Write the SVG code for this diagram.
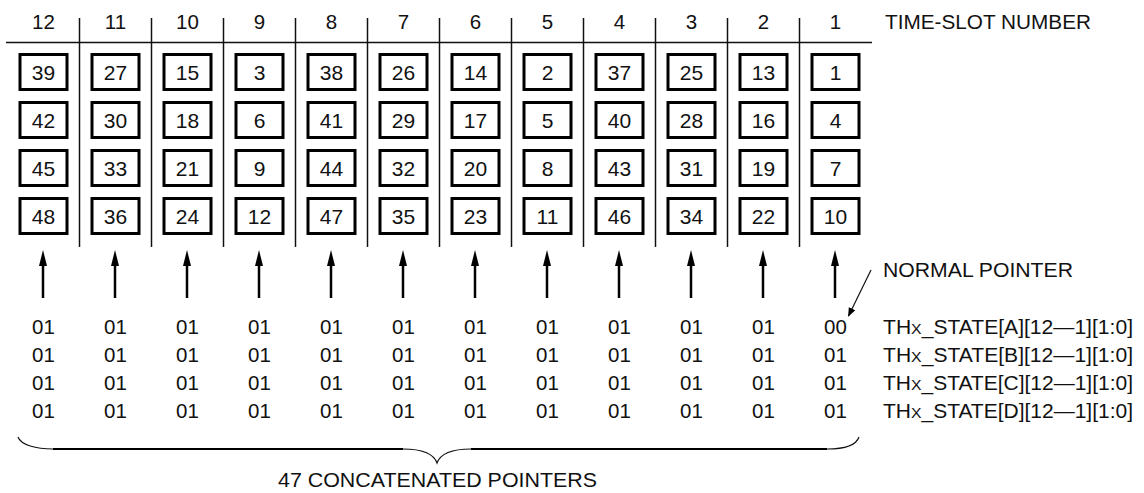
<svg xmlns="http://www.w3.org/2000/svg" width="1144" height="493" viewBox="0 0 1144 493">
<defs>
<style>
text{font-family:"Liberation Sans",Arial,sans-serif;fill:#111}
.hd{font-size:20.5px;text-anchor:middle}
.bx{font-size:21px;text-anchor:middle}
.v{font-size:20.5px;text-anchor:middle}
.lb{font-size:20px}
.sm{font-size:15px}
.ln{stroke:#111;stroke-width:1.5;fill:none}
.box{stroke:#000;stroke-width:3;fill:#fff}
.ar{stroke:#000;stroke-width:2.5;fill:none}
.hdl{fill:#000}
</style>
<marker id="ah" viewBox="0 0 10 10" refX="9" refY="5" markerWidth="9" markerHeight="9" markerUnits="userSpaceOnUse" orient="auto">
<path d="M0,1 L10,5 L0,9 Z" fill="#000"/>
</marker>
</defs>
<rect width="1144" height="493" fill="#fff"/>
<g id="grid">
<line class="ln" x1="6" y1="42.5" x2="872" y2="42.5"/>
<line class="ln" x1="79.5" y1="18" x2="79.5" y2="247"/>
<line class="ln" x1="151.5" y1="18" x2="151.5" y2="247"/>
<line class="ln" x1="223.5" y1="18" x2="223.5" y2="247"/>
<line class="ln" x1="295.5" y1="18" x2="295.5" y2="247"/>
<line class="ln" x1="367.5" y1="18" x2="367.5" y2="247"/>
<line class="ln" x1="439.5" y1="18" x2="439.5" y2="247"/>
<line class="ln" x1="511.5" y1="18" x2="511.5" y2="247"/>
<line class="ln" x1="583.5" y1="18" x2="583.5" y2="247"/>
<line class="ln" x1="655.5" y1="18" x2="655.5" y2="247"/>
<line class="ln" x1="727.5" y1="18" x2="727.5" y2="247"/>
<line class="ln" x1="799.5" y1="18" x2="799.5" y2="247"/>
</g>
<g id="header">
<text class="hd" x="43.5" y="28.5">12</text>
<text class="hd" x="115.5" y="28.5">11</text>
<text class="hd" x="187.5" y="28.5">10</text>
<text class="hd" x="259.5" y="28.5">9</text>
<text class="hd" x="331.5" y="28.5">8</text>
<text class="hd" x="403.5" y="28.5">7</text>
<text class="hd" x="475.5" y="28.5">6</text>
<text class="hd" x="547.5" y="28.5">5</text>
<text class="hd" x="619.5" y="28.5">4</text>
<text class="hd" x="691.5" y="28.5">3</text>
<text class="hd" x="763.5" y="28.5">2</text>
<text class="hd" x="835.5" y="28.5">1</text>
<text class="lb" x="885" y="28.5" textLength="206" lengthAdjust="spacingAndGlyphs">TIME-SLOT NUMBER</text>
</g>
<g id="col12">
<rect class="box" x="20" y="54.5" width="47" height="35"/><text class="bx" x="43.5" y="79.5">39</text>
<rect class="box" x="20" y="102.5" width="47" height="35"/><text class="bx" x="43.5" y="127.5">42</text>
<rect class="box" x="20" y="150.5" width="47" height="35"/><text class="bx" x="43.5" y="175.5">45</text>
<rect class="box" x="20" y="198.5" width="47" height="35"/><text class="bx" x="43.5" y="223.5">48</text>
</g>
<g id="col11">
<rect class="box" x="92" y="54.5" width="47" height="35"/><text class="bx" x="115.5" y="79.5">27</text>
<rect class="box" x="92" y="102.5" width="47" height="35"/><text class="bx" x="115.5" y="127.5">30</text>
<rect class="box" x="92" y="150.5" width="47" height="35"/><text class="bx" x="115.5" y="175.5">33</text>
<rect class="box" x="92" y="198.5" width="47" height="35"/><text class="bx" x="115.5" y="223.5">36</text>
</g>
<g id="col10">
<rect class="box" x="164" y="54.5" width="47" height="35"/><text class="bx" x="187.5" y="79.5">15</text>
<rect class="box" x="164" y="102.5" width="47" height="35"/><text class="bx" x="187.5" y="127.5">18</text>
<rect class="box" x="164" y="150.5" width="47" height="35"/><text class="bx" x="187.5" y="175.5">21</text>
<rect class="box" x="164" y="198.5" width="47" height="35"/><text class="bx" x="187.5" y="223.5">24</text>
</g>
<g id="col9">
<rect class="box" x="236" y="54.5" width="47" height="35"/><text class="bx" x="259.5" y="79.5">3</text>
<rect class="box" x="236" y="102.5" width="47" height="35"/><text class="bx" x="259.5" y="127.5">6</text>
<rect class="box" x="236" y="150.5" width="47" height="35"/><text class="bx" x="259.5" y="175.5">9</text>
<rect class="box" x="236" y="198.5" width="47" height="35"/><text class="bx" x="259.5" y="223.5">12</text>
</g>
<g id="col8">
<rect class="box" x="308" y="54.5" width="47" height="35"/><text class="bx" x="331.5" y="79.5">38</text>
<rect class="box" x="308" y="102.5" width="47" height="35"/><text class="bx" x="331.5" y="127.5">41</text>
<rect class="box" x="308" y="150.5" width="47" height="35"/><text class="bx" x="331.5" y="175.5">44</text>
<rect class="box" x="308" y="198.5" width="47" height="35"/><text class="bx" x="331.5" y="223.5">47</text>
</g>
<g id="col7">
<rect class="box" x="380" y="54.5" width="47" height="35"/><text class="bx" x="403.5" y="79.5">26</text>
<rect class="box" x="380" y="102.5" width="47" height="35"/><text class="bx" x="403.5" y="127.5">29</text>
<rect class="box" x="380" y="150.5" width="47" height="35"/><text class="bx" x="403.5" y="175.5">32</text>
<rect class="box" x="380" y="198.5" width="47" height="35"/><text class="bx" x="403.5" y="223.5">35</text>
</g>
<g id="col6">
<rect class="box" x="452" y="54.5" width="47" height="35"/><text class="bx" x="475.5" y="79.5">14</text>
<rect class="box" x="452" y="102.5" width="47" height="35"/><text class="bx" x="475.5" y="127.5">17</text>
<rect class="box" x="452" y="150.5" width="47" height="35"/><text class="bx" x="475.5" y="175.5">20</text>
<rect class="box" x="452" y="198.5" width="47" height="35"/><text class="bx" x="475.5" y="223.5">23</text>
</g>
<g id="col5">
<rect class="box" x="524" y="54.5" width="47" height="35"/><text class="bx" x="547.5" y="79.5">2</text>
<rect class="box" x="524" y="102.5" width="47" height="35"/><text class="bx" x="547.5" y="127.5">5</text>
<rect class="box" x="524" y="150.5" width="47" height="35"/><text class="bx" x="547.5" y="175.5">8</text>
<rect class="box" x="524" y="198.5" width="47" height="35"/><text class="bx" x="547.5" y="223.5">11</text>
</g>
<g id="col4">
<rect class="box" x="596" y="54.5" width="47" height="35"/><text class="bx" x="619.5" y="79.5">37</text>
<rect class="box" x="596" y="102.5" width="47" height="35"/><text class="bx" x="619.5" y="127.5">40</text>
<rect class="box" x="596" y="150.5" width="47" height="35"/><text class="bx" x="619.5" y="175.5">43</text>
<rect class="box" x="596" y="198.5" width="47" height="35"/><text class="bx" x="619.5" y="223.5">46</text>
</g>
<g id="col3">
<rect class="box" x="668" y="54.5" width="47" height="35"/><text class="bx" x="691.5" y="79.5">25</text>
<rect class="box" x="668" y="102.5" width="47" height="35"/><text class="bx" x="691.5" y="127.5">28</text>
<rect class="box" x="668" y="150.5" width="47" height="35"/><text class="bx" x="691.5" y="175.5">31</text>
<rect class="box" x="668" y="198.5" width="47" height="35"/><text class="bx" x="691.5" y="223.5">34</text>
</g>
<g id="col2">
<rect class="box" x="740" y="54.5" width="47" height="35"/><text class="bx" x="763.5" y="79.5">13</text>
<rect class="box" x="740" y="102.5" width="47" height="35"/><text class="bx" x="763.5" y="127.5">16</text>
<rect class="box" x="740" y="150.5" width="47" height="35"/><text class="bx" x="763.5" y="175.5">19</text>
<rect class="box" x="740" y="198.5" width="47" height="35"/><text class="bx" x="763.5" y="223.5">22</text>
</g>
<g id="col1">
<rect class="box" x="812" y="54.5" width="47" height="35"/><text class="bx" x="835.5" y="79.5">1</text>
<rect class="box" x="812" y="102.5" width="47" height="35"/><text class="bx" x="835.5" y="127.5">4</text>
<rect class="box" x="812" y="150.5" width="47" height="35"/><text class="bx" x="835.5" y="175.5">7</text>
<rect class="box" x="812" y="198.5" width="47" height="35"/><text class="bx" x="835.5" y="223.5">10</text>
</g>
<g id="connectors">
<g class="ar">
<line x1="43" y1="298" x2="43" y2="262"/>
<line x1="115" y1="298" x2="115" y2="262"/>
<line x1="187" y1="298" x2="187" y2="262"/>
<line x1="259" y1="298" x2="259" y2="262"/>
<line x1="331" y1="298" x2="331" y2="262"/>
<line x1="403" y1="298" x2="403" y2="262"/>
<line x1="475" y1="298" x2="475" y2="262"/>
<line x1="547" y1="298" x2="547" y2="262"/>
<line x1="619" y1="298" x2="619" y2="262"/>
<line x1="691" y1="298" x2="691" y2="262"/>
<line x1="763" y1="298" x2="763" y2="262"/>
<line x1="835" y1="298" x2="835" y2="262"/>
</g>
<g class="hdl">
<path d="M43,250 L47,266 L39,266 Z"/>
<path d="M115,250 L119,266 L111,266 Z"/>
<path d="M187,250 L191,266 L183,266 Z"/>
<path d="M259,250 L263,266 L255,266 Z"/>
<path d="M331,250 L335,266 L327,266 Z"/>
<path d="M403,250 L407,266 L399,266 Z"/>
<path d="M475,250 L479,266 L471,266 Z"/>
<path d="M547,250 L551,266 L543,266 Z"/>
<path d="M619,250 L623,266 L615,266 Z"/>
<path d="M691,250 L695,266 L687,266 Z"/>
<path d="M763,250 L767,266 L759,266 Z"/>
<path d="M835,250 L839,266 L831,266 Z"/>
</g>
<line x1="871" y1="270" x2="848.5" y2="316" stroke="#111" stroke-width="1.2" marker-end="url(#ah)"/>
</g>
<g id="pointers">
<text class="lb" x="883" y="277" textLength="190" lengthAdjust="spacingAndGlyphs">NORMAL POINTER</text>
<g class="v">
<text x="43.5" y="333.5">01</text><text x="115.5" y="333.5">01</text><text x="187.5" y="333.5">01</text><text x="259.5" y="333.5">01</text><text x="331.5" y="333.5">01</text><text x="403.5" y="333.5">01</text><text x="475.5" y="333.5">01</text><text x="547.5" y="333.5">01</text><text x="619.5" y="333.5">01</text><text x="691.5" y="333.5">01</text><text x="763.5" y="333.5">01</text><text x="835.5" y="333.5">00</text>
<text x="43.5" y="361.8">01</text><text x="115.5" y="361.8">01</text><text x="187.5" y="361.8">01</text><text x="259.5" y="361.8">01</text><text x="331.5" y="361.8">01</text><text x="403.5" y="361.8">01</text><text x="475.5" y="361.8">01</text><text x="547.5" y="361.8">01</text><text x="619.5" y="361.8">01</text><text x="691.5" y="361.8">01</text><text x="763.5" y="361.8">01</text><text x="835.5" y="361.8">01</text>
<text x="43.5" y="390">01</text><text x="115.5" y="390">01</text><text x="187.5" y="390">01</text><text x="259.5" y="390">01</text><text x="331.5" y="390">01</text><text x="403.5" y="390">01</text><text x="475.5" y="390">01</text><text x="547.5" y="390">01</text><text x="619.5" y="390">01</text><text x="691.5" y="390">01</text><text x="763.5" y="390">01</text><text x="835.5" y="390">01</text>
<text x="43.5" y="418.2">01</text><text x="115.5" y="418.2">01</text><text x="187.5" y="418.2">01</text><text x="259.5" y="418.2">01</text><text x="331.5" y="418.2">01</text><text x="403.5" y="418.2">01</text><text x="475.5" y="418.2">01</text><text x="547.5" y="418.2">01</text><text x="619.5" y="418.2">01</text><text x="691.5" y="418.2">01</text><text x="763.5" y="418.2">01</text><text x="835.5" y="418.2">01</text>
</g>
<text class="lb" x="883" y="333.5" textLength="250" lengthAdjust="spacingAndGlyphs">TH<tspan class="sm">X</tspan>_STATE[A][12—1][1:0]</text>
<text class="lb" x="883" y="361.8" textLength="250" lengthAdjust="spacingAndGlyphs">TH<tspan class="sm">X</tspan>_STATE[B][12—1][1:0]</text>
<text class="lb" x="883" y="390" textLength="250" lengthAdjust="spacingAndGlyphs">TH<tspan class="sm">X</tspan>_STATE[C][12—1][1:0]</text>
<text class="lb" x="883" y="418.2" textLength="250" lengthAdjust="spacingAndGlyphs">TH<tspan class="sm">X</tspan>_STATE[D][12—1][1:0]</text>
</g>
<g id="brace">
<path d="M18,437 C21,445 36,449 53,449 M403,449 C420,449 433,452 437,463 C441,452 454,449 471,449 M827,449 C844,449 856,446 859,437" stroke="#111" stroke-width="1.2" fill="none"/>
<path d="M53,449 L403,449 M471,449 L827,449" stroke="#000" stroke-width="2" fill="none"/>
<text class="lb" x="437.5" y="487" text-anchor="middle" textLength="319" lengthAdjust="spacingAndGlyphs">47 CONCATENATED POINTERS</text>
</g>
</svg>
